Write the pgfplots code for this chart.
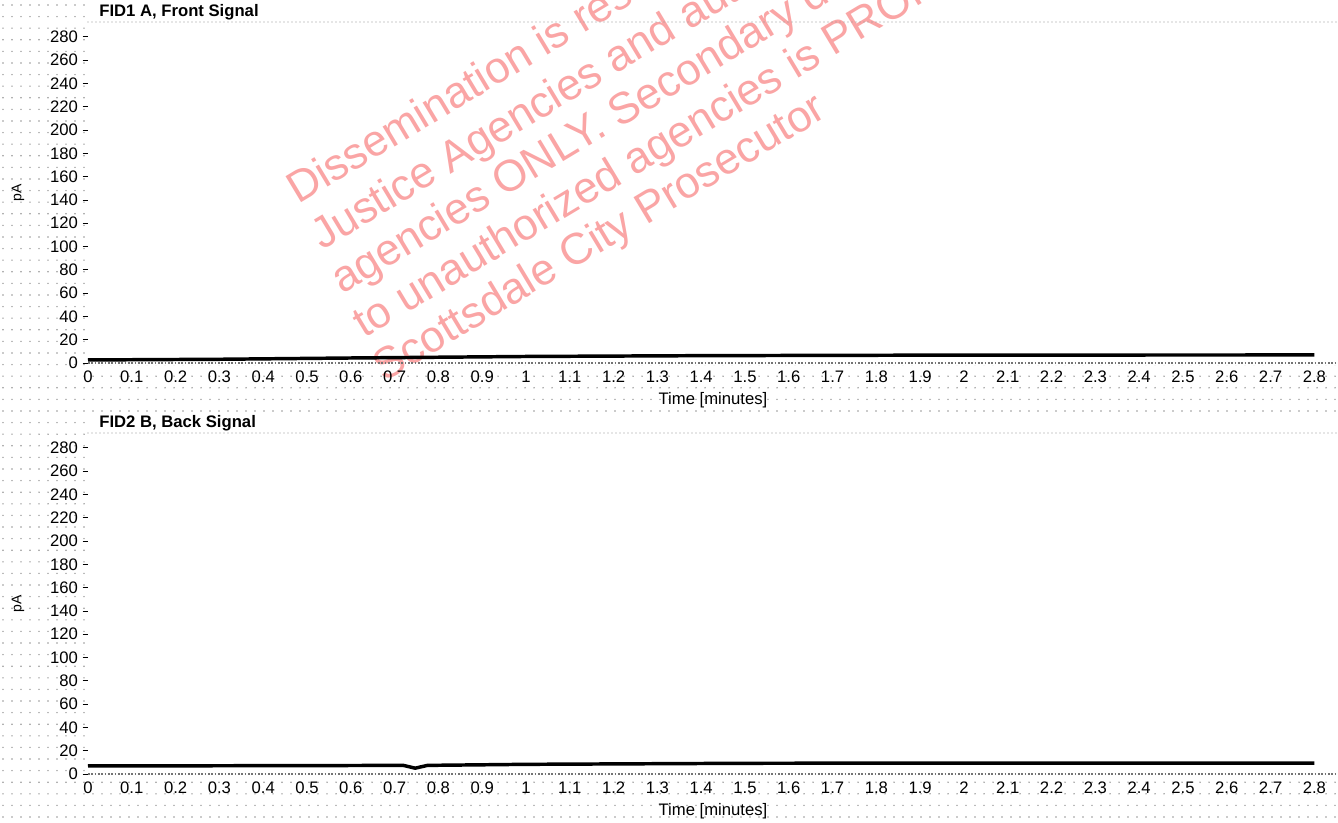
\documentclass[border=0pt]{standalone}
\usepackage{pgfplots}
\pgfplotsset{compat=1.18}
\usepackage{fontspec}
\setmainfont{Liberation Sans}
\definecolor{wm}{RGB}{250,165,165}
\definecolor{dotc}{RGB}{150,150,150}

\pgfplotstableread{
x y
0.00 2.6
0.30 3.2
0.60 4.3
1.00 5.6
1.40 6.3
2.00 6.8
2.80 6.9
}\frontdata

\pgfplotstableread{
x y
0.000 6.9
0.500 7.2
0.720 7.4
0.747 5.0
0.775 7.4
1.000 8.3
1.500 9.2
2.000 9.4
2.800 9.4
}\backdata

\pgfplotsset{
  fidaxis/.style={
    scale only axis,
    width=937.5pt, height=255.75pt,
    xmin=0, xmax=2.854, ymin=0, ymax=292.7,
    clip=false,
    axis line style={draw=none},
    tick pos=left,
    xtick={0,0.1,0.2,0.3,0.4,0.5,0.6,0.7,0.8,0.9,1,1.1,1.2,1.3,1.4,1.5,1.6,1.7,1.8,1.9,2,2.1,2.2,2.3,2.4,2.5,2.6,2.7,2.8},
    xticklabels={0,0.1,0.2,0.3,0.4,0.5,0.6,0.7,0.8,0.9,1,1.1,1.2,1.3,1.4,1.5,1.6,1.7,1.8,1.9,2,2.1,2.2,2.3,2.4,2.5,2.6,2.7,2.8},
    ytick={0,20,40,60,80,100,120,140,160,180,200,220,240,260,280},
    yticklabels={0,20,40,60,80,100,120,140,160,180,200,220,240,260,280},
    tick align=outside,
    major tick length=4pt,
    xtick style={draw=none},
    ytick style={black, line width=0.5pt},
    tick label style={font=\fontsize{12.5}{12.5}\selectfont},
    xticklabel style={yshift=1.5pt},
    title style={at={(rel axis cs:0,1)}, anchor=west, xshift=5pt, yshift=1.5pt,
      font=\bfseries\fontsize{12.5}{12.5}\selectfont},
    xlabel={Time [minutes]},
    xlabel style={at={(rel axis cs:0.5,0)}, anchor=center, yshift=-28pt,
      font=\fontsize{12.5}{12.5}\selectfont},
    ylabel={pA},
    ylabel style={at={(rel axis cs:0,0.5)}, anchor=center, yshift=52.5pt,
      font=\fontsize{10.5}{10.5}\selectfont},
  }
}

\begin{document}
\begin{tikzpicture}
\begin{scope}[x=0.75pt,y=0.75pt]
% scanned dotted background
\foreach \r in {0,...,70}{
  \draw[dotc, line width=1.2pt, line cap=round, dash pattern=on 0pt off 6.75pt]
    (3,{5+\r*11.6}) -- (1338,{5+\r*11.6});
}
\fill[white] (86,457) rectangle (1338,822);
\fill[white] (86,46) rectangle (1338,410);
% watermark
\begin{scope}
\clip (0,0) rectangle (1338,822);
\begin{scope}[every node/.style={anchor=base west, rotate=31, text=wm,
    font=\fontsize{33}{33}\selectfont, inner sep=0pt}]
\node at (298,617) {Dissemination is restricted to Criminal};
\node at (322,571) {Justice Agencies and authorized criminal justice};
\node at (342,527) {agencies ONLY. Secondary dissemination};
\node at (364,483) {to unauthorized agencies is PROHIBITED.};
\node at (384,439) {Scottsdale City Prosecutor};
\end{scope}
\end{scope}
\end{scope}

\begin{axis}[fidaxis, at={(66pt,344.25pt)}, anchor=south west, title={FID1 A, Front Signal}]
\draw[dotc, line width=1pt, line cap=round, dash pattern=on 0pt off 3pt]
  (rel axis cs:0,1) -- (rel axis cs:1,1);
\draw[black!55, line width=0.8pt, dash pattern=on 1.2pt off 1.3pt]
  (rel axis cs:0,0) -- (rel axis cs:1,0);
\addplot[black, line width=2.6pt, line join=round] table[x=x,y=y] {\frontdata};
\end{axis}

\begin{axis}[fidaxis, at={(66pt,36pt)}, anchor=south west, title={FID2 B, Back Signal}]
\draw[dotc, line width=1pt, line cap=round, dash pattern=on 0pt off 3pt]
  (rel axis cs:0,1) -- (rel axis cs:1,1);
\draw[black!55, line width=0.8pt, dash pattern=on 1.2pt off 1.3pt]
  (rel axis cs:0,0) -- (rel axis cs:1,0);
\addplot[black, line width=2.6pt, line join=round] table[x=x,y=y] {\backdata};
\end{axis}
\pgfresetboundingbox
\path[use as bounding box] (0pt,0pt) rectangle (1003.5pt,616.5pt);
\end{tikzpicture}
\end{document}
